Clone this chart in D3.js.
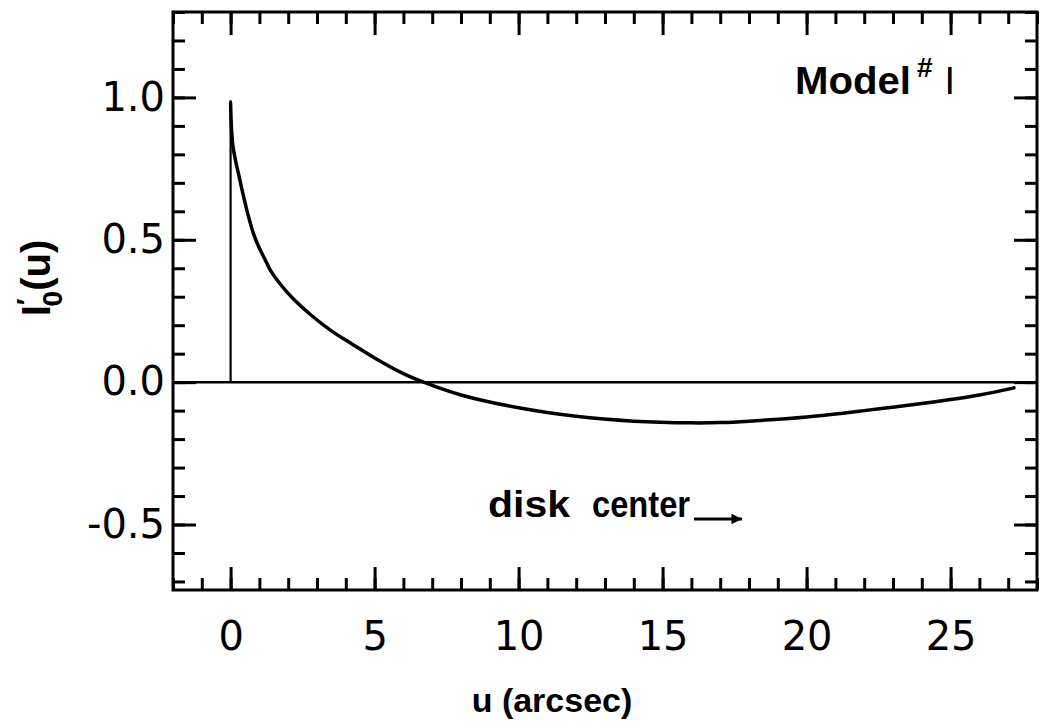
<!DOCTYPE html>
<html><head><meta charset="utf-8">
<script src="https://cdn.jsdelivr.net/npm/d3@7"></script>
<style>body{margin:0;background:#fff}</style>
</head><body>
<svg id="c" width="1047" height="728"></svg>
<script>
const uVals = [0, 0.08, 0.3, 0.6, 0.8, 1.0, 1.2, 1.4, 1.8, 2.2, 2.8, 3.5, 4.2, 5.0, 6.0, 6.7, 8, 10, 12, 14, 16, 17, 18, 20, 22, 24, 26, 27.2];
const iVals = [0.98, 0.83, 0.72, 0.59, 0.52, 0.47, 0.43, 0.39, 0.335, 0.29, 0.235, 0.18, 0.135, 0.085, 0.03, 0.0, -0.045, -0.09, -0.12, -0.137, -0.143, -0.142, -0.137, -0.122, -0.100, -0.075, -0.045, -0.02];
const spikeTop = 0.99;
const xTicks = [0, 5, 10, 15, 20, 25];
const yTicks = [-0.5, 0.0, 0.5, 1.0];
const xMinor = d3.range(-2, 29, 1);
const yMinor = d3.range(-7, 14, 1).map(d => d / 10);

const L = 173, R = 1037, T = 12, B = 590;
const x = d3.scaleLinear().domain([-2, 28]).range([L, R]);
const y = d3.scaleLinear().domain([-0.73, 1.3]).range([B, T]);
const svg = d3.select("#c");
const font = "'DejaVu Sans', 'Liberation Sans', sans-serif";
const font2 = "'Liberation Sans', Arial, sans-serif";

function styleAxis(g) {
  g.select(".domain").remove();
  g.selectAll("line").attr("stroke", "#000").attr("stroke-width", 3);
  g.selectAll("text").attr("font-family", font).attr("font-size", 40).attr("fill", "#000");
}
// minor ticks
svg.append("g").attr("transform", `translate(0,${B})`).call(d3.axisBottom(x).tickValues(xMinor).tickSize(-12).tickFormat("")).call(styleAxis);
svg.append("g").attr("transform", `translate(0,${T})`).call(d3.axisTop(x).tickValues(xMinor).tickSize(-12).tickFormat("")).call(styleAxis);
svg.append("g").attr("transform", `translate(${L},0)`).call(d3.axisLeft(y).tickValues(yMinor).tickSize(-12).tickFormat("")).call(styleAxis);
svg.append("g").attr("transform", `translate(${R},0)`).call(d3.axisRight(y).tickValues(yMinor).tickSize(-12).tickFormat("")).call(styleAxis);
// major ticks
svg.append("g").attr("transform", `translate(0,${B})`).call(d3.axisBottom(x).tickValues(xTicks).tickSize(-23).tickPadding(32).tickFormat(d3.format("d"))).call(styleAxis);
svg.append("g").attr("transform", `translate(0,${T})`).call(d3.axisTop(x).tickValues(xTicks).tickSize(-23).tickFormat("")).call(styleAxis);
svg.append("g").attr("transform", `translate(${L},0)`).call(d3.axisLeft(y).tickValues(yTicks).tickSize(-23).tickPadding(8)
  .tickFormat(d => d3.format(".1f")(d).replace("−", "-"))).call(styleAxis);
svg.append("g").attr("transform", `translate(${R},0)`).call(d3.axisRight(y).tickValues(yTicks).tickSize(-23).tickFormat("")).call(styleAxis);

// frame
svg.append("rect").attr("x", L).attr("y", T).attr("width", R - L).attr("height", B - T)
  .attr("fill", "none").attr("stroke", "#000").attr("stroke-width", 3);

// zero line
svg.append("line").attr("x1", L).attr("x2", R).attr("y1", y(0)).attr("y2", y(0))
  .attr("stroke", "#000").attr("stroke-width", 2.5);
// spike at u=0
svg.append("line").attr("x1", x(0)).attr("x2", x(0)).attr("y1", y(0)).attr("y2", y(spikeTop))
  .attr("stroke", "#000").attr("stroke-width", 2.2);
// curve
const pts = uVals.map((u, i) => [u, iVals[i]]);
svg.append("path").datum(pts)
  .attr("d", d3.line().x(d => x(d[0])).y(d => y(d[1])).curve(d3.curveCatmullRom.alpha(0.5)))
  .attr("fill", "none").attr("stroke", "#000").attr("stroke-width", 3.5).attr("stroke-linecap", "round");

// labels
svg.append("text").attr("x", 552).attr("y", 712).attr("text-anchor", "middle")
  .attr("font-family", font2).attr("font-size", 34).attr("font-weight", "bold").text("u (arcsec)");

const yl = svg.append("text").attr("transform", "translate(50,278) rotate(-90)").attr("text-anchor", "middle")
  .attr("font-family", font2).attr("font-size", 40).attr("font-weight", "bold");
yl.append("tspan").text("I");
yl.append("tspan").attr("font-size", 28).attr("dy", -14).text("′");
yl.append("tspan").attr("font-size", 28).attr("dx", -8).attr("dy", 26).text("0");
yl.append("tspan").attr("dy", -12).text("(u)");

const ml = svg.append("text").attr("x", 795).attr("y", 94)
  .attr("font-family", font2).attr("font-size", 38).attr("font-weight", "bold");
ml.append("tspan").attr("textLength", 116).attr("lengthAdjust", "spacingAndGlyphs").text("Model");
ml.append("tspan").attr("font-size", 28).attr("dx", 6).attr("dy", -17).text("#");
ml.append("tspan").attr("dx", 12).attr("dy", 17).attr("font-weight", "normal").text("I");

svg.append("text").attr("x", 488).attr("y", 517).attr("textLength", 82).attr("lengthAdjust", "spacingAndGlyphs")
  .attr("font-family", font2).attr("font-size", 36).attr("font-weight", "bold").text("disk");
svg.append("text").attr("x", 592).attr("y", 517).attr("textLength", 98).attr("lengthAdjust", "spacingAndGlyphs")
  .attr("font-family", font2).attr("font-size", 36).attr("font-weight", "bold").text("center");
svg.append("defs").append("marker").attr("id", "ah").attr("viewBox", "0 0 10 10").attr("refX", 10).attr("refY", 5)
  .attr("markerWidth", 6).attr("markerHeight", 3.5).attr("markerUnits", "strokeWidth").attr("orient", "auto")
  .append("path").attr("d", "M0,0L10,5L0,10Z").attr("fill", "#000");
svg.append("line").attr("x1", 694).attr("x2", 742).attr("y1", 519).attr("y2", 519)
  .attr("stroke", "#000").attr("stroke-width", 3).attr("marker-end", "url(#ah)");
</script>
</body></html>
